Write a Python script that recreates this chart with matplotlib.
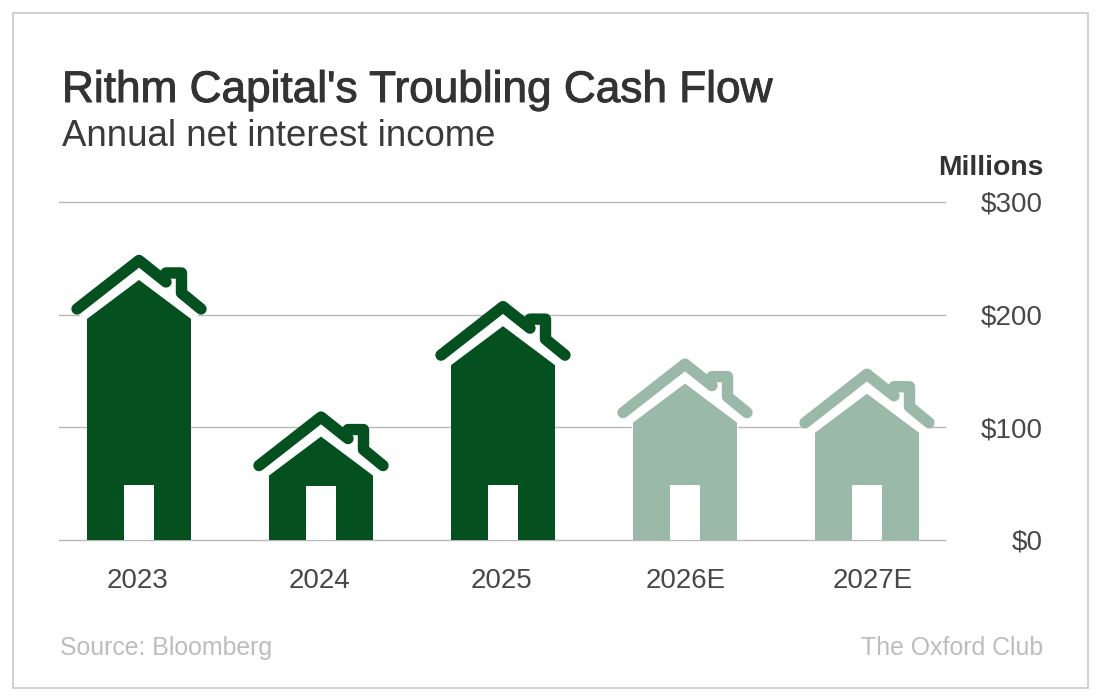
import matplotlib
matplotlib.use("Agg")
import matplotlib.pyplot as plt
import matplotlib.patheffects as pe
from matplotlib.patches import Polygon, Rectangle
from matplotlib.transforms import ScaledTranslation

categories = ["2023", "2024", "2025", "2026E", "2027E"]
roof_tops = [253, 114, 212, 161, 152]
door_heights = [49, 48, 49, 49, 49]
estimate = [False, False, False, True, True]
y_ticks = [0, 100, 200, 300]
y_labels = ["$0", "$100", "$200", "$300"]
label_shifts = [-2, -1, -1, 1, 6]

W, H = 1100, 700
DARK, LIGHT = "#04501F", "#9BB9A8"
FONT = "Liberation Sans"
plt.rcParams["font.family"] = FONT

fig = plt.figure(figsize=(W / 100, H / 100), dpi=100, facecolor="white")
L, R, T, B = 59, 945, 202, 540
ax = fig.add_axes([L / W, 1 - B / H, (R - L) / W, (B - T) / H])
PX_X = 182.0
PX_Y = (B - T) / 300
ax.set_xlim((L - 139) / PX_X, (R - 139) / PX_X)
ax.set_ylim(0, 300)
for s in ax.spines.values():
    s.set_visible(False)
ax.set_yticks(y_ticks, y_labels)
ax.set_xticks(range(len(categories)), categories)
ax.yaxis.tick_right()
ax.tick_params(axis="y", length=0, pad=98 * 0.72, labelsize=20, labelcolor="#484848")
ax.tick_params(axis="x", length=0, pad=27.5 * 0.72, labelsize=20, labelcolor="#484848")
for t in ax.get_yticklabels():
    t.set_ha("right")
for t, shift in zip(ax.get_xticklabels(), label_shifts):
    t.set_transform(t.get_transform() + ScaledTranslation(shift / 100, 0, fig.dpi_scale_trans))
ax.grid(axis="y", color="#B9B9B9", lw=1.0, zorder=0, clip_on=False)
ax.set_axisbelow(True)


def pt(cx, top, dx, dy):
    """Shape offset in pixels from the roof top to data coordinates."""
    return (cx + dx / PX_X, top - dy / PX_Y)


for i, (top, door, est) in enumerate(zip(roof_tops, door_heights, estimate)):
    col = LIGHT if est else DARK
    base = lambda dx: i + dx / PX_X
    # white gap under the roof
    ax.add_patch(Polygon([pt(i, top, -63, 55), pt(i, top, 0, 5), pt(i, top, 63, 55),
                          pt(i, top, 52, 70), pt(i, top, -52, 70)],
                         fc="white", ec="none", zorder=2))
    # body
    ax.add_patch(Polygon([(base(-52), 0), pt(i, top, -52, 64), pt(i, top, 0, 25),
                          pt(i, top, 52, 64), (base(52), 0)],
                         fc=col, ec="none", zorder=3))
    # door
    ax.add_patch(Rectangle((base(-15), 0), 30 / PX_X, door, fc="white", ec="none", zorder=4))
    # roof
    rx, ry = zip(pt(i, top, -62, 54), pt(i, top, 0, 5.5), pt(i, top, 27, 27))
    ax.plot(rx, ry, color=col, lw=8.2, solid_capstyle="round", solid_joinstyle="round",
            zorder=5, clip_on=False)
    # chimney and lower roof
    cx_, cy_ = zip(pt(i, top, 27, 18), pt(i, top, 42.5, 18), pt(i, top, 42.5, 38), pt(i, top, 62, 54))
    ax.plot(cx_, cy_, color=col, lw=8.2, solid_capstyle="round", solid_joinstyle="round",
            zorder=5, clip_on=False)


def label(x, y, s, **kw):
    fig.text(x / W, 1 - y / H, s, **kw)


label(62, 102, "Rithm Capital's Troubling Cash Flow", fontsize=31.8, color="#333333", va="baseline",
      path_effects=[pe.withStroke(linewidth=0.7, foreground="#333333")])
label(62, 146, "Annual net interest income", fontsize=26.4, color="#3A3A3A", va="baseline")
label(1043, 175, "Millions", fontsize=20.4, color="#333333", fontweight="bold", ha="right", va="baseline")
label(60, 655, "Source: Bloomberg", fontsize=17.9, color="#BDBDBD", va="baseline")
label(1043, 655, "The Oxford Club", fontsize=17.9, color="#BDBDBD", ha="right", va="baseline")

fig.add_artist(Rectangle((12.5 / W, 1 - 687.5 / H), 1075 / W, 675 / H, transform=fig.transFigure,
                         fc="none", ec="#C8C8C8", lw=1.2))
fig.savefig("out.png", dpi=100)
